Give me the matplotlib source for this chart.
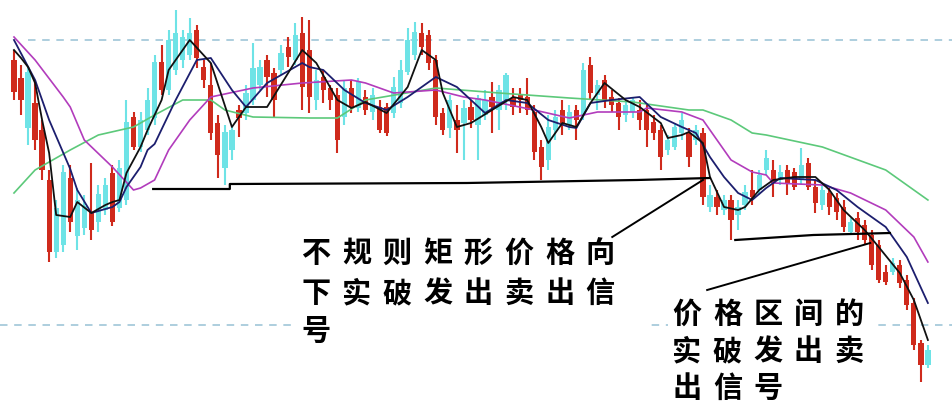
import matplotlib
matplotlib.use("Agg")
import matplotlib.pyplot as plt
from matplotlib.patches import Rectangle
import numpy as np

plt.rcParams['font.family'] = ['Noto Sans CJK SC', 'DejaVu Sans']

# ---------------- data (price units) ----------------
opens = [340, 322, 272, 297, 270, 220, 148, 155, 222, 164, 172, 188, 178, 190, 227, 192, 200, 283, 253, 270,
         282, 338, 310, 330, 340, 345, 370, 333, 315, 277, 232, 250, 290, 287, 300, 315, 340, 327, 330, 353,
         340, 367, 350, 300, 323, 312, 305, 283, 312, 292, 303, 288, 293, 293, 287, 297, 328, 345, 367, 365,
         340, 287, 272, 280, 277, 293, 275, 285, 303, 290, 300, 302, 305, 303, 288, 253, 240, 270, 290, 275,
         290, 285, 335, 305, 320, 303, 297, 285, 288, 290, 290, 278, 270, 250, 253, 267, 267, 260, 267, 193,
         203, 190, 200, 185, 195, 210, 210, 230, 230, 220, 230, 228, 220, 237, 213, 195, 207, 202, 193, 168,
         182, 175, 165, 155, 128, 128, 135, 120, 97, 57, 35]
closes = [308, 300, 328, 260, 230, 148, 192, 228, 178, 200, 194, 170, 206, 215, 178, 232, 278, 253, 280, 300,
          338, 310, 360, 367, 363, 367, 342, 320, 267, 245, 268, 270, 282, 307, 332, 333, 323, 300, 347, 343,
          365, 313, 303, 320, 310, 300, 260, 312, 293, 318, 290, 305, 270, 267, 313, 330, 360, 368, 353, 337,
          283, 270, 300, 270, 292, 280, 302, 300, 293, 310, 325, 293, 300, 290, 248, 233, 273, 283, 277, 288,
          280, 330, 307, 315, 300, 295, 283, 295, 300, 280, 270, 267, 243, 260, 273, 280, 243, 270, 203, 205,
          193, 200, 180, 193, 208, 203, 225, 242, 217, 228, 217, 213, 235, 213, 197, 210, 193, 188, 173, 178,
          168, 160, 135, 120, 118, 137, 117, 95, 55, 35, 50]
highs = [350, 335, 334, 320, 280, 230, 200, 235, 235, 212, 205, 237, 215, 222, 235, 240, 300, 288, 288, 312,
         345, 355, 370, 390, 370, 382, 375, 340, 337, 285, 275, 275, 295, 315, 357, 340, 345, 332, 355, 363,
         377, 383, 380, 330, 330, 315, 312, 320, 320, 322, 310, 312, 300, 297, 323, 340, 372, 378, 377, 370,
         345, 292, 305, 295, 300, 300, 305, 310, 318, 315, 327, 312, 312, 322, 295, 260, 285, 290, 300, 295,
         295, 337, 343, 320, 325, 310, 302, 300, 303, 300, 295, 285, 275, 265, 277, 287, 272, 275, 272, 215,
         210, 205, 205, 200, 215, 230, 230, 250, 240, 235, 235, 232, 252, 242, 220, 215, 212, 207, 200, 182,
         188, 180, 170, 160, 135, 142, 140, 125, 102, 60, 55]
lows = [300, 285, 255, 250, 220, 138, 142, 148, 168, 150, 165, 160, 168, 185, 174, 188, 195, 250, 248, 265,
        275, 305, 305, 325, 332, 340, 332, 312, 260, 222, 215, 240, 263, 280, 295, 310, 303, 283, 325, 333,
        335, 290, 287, 290, 297, 290, 247, 275, 287, 288, 285, 280, 267, 264, 282, 292, 325, 340, 345, 330,
        275, 265, 262, 247, 240, 272, 240, 280, 267, 270, 290, 285, 287, 285, 240, 220, 230, 260, 265, 270,
        260, 280, 300, 290, 292, 288, 270, 278, 282, 270, 253, 260, 230, 245, 250, 260, 233, 255, 195, 188,
        185, 185, 160, 170, 190, 195, 205, 225, 203, 215, 205, 210, 215, 210, 187, 190, 185, 180, 168, 165,
        160, 155, 130, 117, 115, 125, 112, 90, 50, 18, 32]

# moving averages (candle index -> value)
ma5_idx = [0, 1, 2, 3, 4, 5, 6, 8, 9, 11, 13, 14, 15, 16, 18, 19, 21, 22, 25, 28, 31, 33, 36, 39, 41, 43, 46,
           48, 50, 53, 56, 58, 60, 61, 63, 65, 68, 71, 73, 75, 76, 78, 80, 82, 84, 87, 89, 92, 93, 95, 96, 98,
           99, 101, 103, 104, 106, 108, 111, 114, 116, 118, 121, 123, 126, 128, 130]
ma5_val = [350, 342, 333, 317, 280, 247, 185, 183, 198, 187, 195, 198, 200, 227, 253, 270, 300, 330, 360, 337,
           273, 293, 293, 327, 350, 337, 300, 292, 298, 287, 313, 350, 340, 307, 273, 277, 290, 303, 300, 273,
           257, 277, 273, 297, 317, 300, 293, 277, 262, 265, 268, 257, 223, 193, 190, 193, 210, 220, 223, 223,
           210, 190, 170, 153, 127, 100, 60]
ma10_idx = [0, 3, 5, 8, 9, 11, 14, 15, 16, 18, 19, 20, 23, 26, 28, 31, 33, 36, 41, 42, 44, 47, 50, 53, 56, 60,
            63, 65, 67, 70, 73, 76, 79, 80, 82, 85, 89, 92, 95, 97, 99, 101, 103, 105, 107, 109, 114, 117, 120,
            124, 127, 130]
ma10_val = [360, 320, 280, 231, 210, 187, 193, 198, 213, 233, 250, 256, 300, 340, 342, 310, 293, 317, 337, 333,
            330, 310, 297, 290, 303, 323, 313, 300, 287, 300, 297, 280, 273, 272, 297, 300, 303, 283, 273, 267,
            243, 223, 207, 200, 212, 222, 220, 210, 193, 173, 143, 97]
ma20_idx = [0, 3, 7, 8, 10, 14, 17, 18, 20, 22, 25, 28, 34, 41, 48, 50, 54, 60, 64, 67, 74, 79, 83, 89, 90, 95,
            98, 100, 102, 105, 107, 108, 115, 119, 124, 128, 130]
ma20_val = [363, 340, 303, 293, 260, 233, 210, 212, 220, 250, 280, 303, 312, 317, 320, 317, 307, 310, 303, 300,
            290, 282, 288, 288, 292, 288, 280, 260, 240, 228, 225, 217, 215, 207, 190, 163, 138]
ma60_idx = [0, 3, 8, 12, 17, 20, 24, 28, 30, 34, 42, 46, 50, 60, 69, 79, 88, 96, 98, 102, 105, 107, 115, 124,
            130]
ma60_val = [207, 230, 250, 265, 273, 285, 300, 300, 290, 283, 282, 282, 300, 312, 307, 302, 298, 290, 290, 280,
            267, 265, 253, 230, 200]

ref_levels = [360, 75]

# hand-drawn annotation lines (candle index, price)
support1_idx = [19.8, 30.7, 30.7, 64.4, 88.6, 99.0]
support1_val = [211, 211, 216, 217, 220, 222]
pointer1_idx = [85.1, 98.0]
pointer1_val = [163, 220]
support2_idx = [102.6, 113.7, 124.6]
support2_val = [160, 165, 167]
pointer2_idx = [98.6, 121.8]
pointer2_val = [110, 157]

text1_lines = ["不规则矩形价格向", "下实破发出卖出信", "号"]
text2_lines = ["价格区间的", "实破发出卖", "出信号"]

# ---------------- drawing ----------------
W, H = 953, 403
fig = plt.figure(figsize=(W / 100, H / 100), dpi=100)
ax = fig.add_axes([0, 0, 1, 1])
ax.set_xlim(-1.99, 133.57)
ax.set_ylim(-3, 400)
ax.axis('off')

RED = '#cf2a1c'
CYAN = '#6ee3e6'

# reference dashed levels
ax.hlines(ref_levels[0], 2, 134, colors='#9fc6d8', linewidth=1.2, linestyles=(0, (4.5, 4)), zorder=1)
ax.hlines(ref_levels[1], -2, 134, colors='#9fc6d8', linewidth=1.2, linestyles=(0, (4.5, 4)), zorder=1)

o = np.array(opens, float)
c = np.array(closes, float)
h = np.array(highs, float)
l = np.array(lows, float)
x = np.arange(len(o))
up = c >= o
cols = np.where(up, CYAN, RED)

ax.vlines(x, l, h, colors=cols, linewidth=1.5, zorder=2)
body_bot = np.minimum(o, c)
body_h = np.maximum(np.abs(c - o), 1.5)
ax.bar(x, body_h, bottom=body_bot, width=0.75, color=cols, linewidth=0, zorder=3)

# moving averages
ax.plot(ma60_idx, ma60_val, color='#5cc97a', linewidth=1.2, zorder=4)
ax.plot(ma20_idx, ma20_val, color='#b23cbc', linewidth=1.2, zorder=5)
ax.plot(ma10_idx, ma10_val, color='#1c1e6e', linewidth=1.3, zorder=6)
ax.plot(ma5_idx, ma5_val, color='#111111', linewidth=1.3, zorder=7)

# white label boxes
ax.add_patch(Rectangle((295 / W, 1 - 350 / H), (650 - 295) / W, (350 - 240) / H,
                       transform=ax.transAxes, facecolor='white', edgecolor='none', zorder=8))
ax.add_patch(Rectangle((668 / W, 0), (872 - 668) / W, (403 - 293) / H,
                       transform=ax.transAxes, facecolor='white', edgecolor='none', zorder=8))

# annotation lines
ax.plot(support1_idx, support1_val, color='black', linewidth=1.6, zorder=9)
ax.plot(pointer1_idx, pointer1_val, color='black', linewidth=1.4, zorder=9)
ax.plot(support2_idx, support2_val, color='black', linewidth=1.6, zorder=9)
ax.plot(pointer2_idx, pointer2_val, color='black', linewidth=1.4, zorder=9)

def put_lines(lines, x0, ys, pitch):
    for line, yy in zip(lines, ys):
        for j, ch in enumerate(line):
            ax.text((x0 + j * pitch) / W, 1 - yy / H, ch, transform=ax.transAxes,
                    ha='center', va='center', fontsize=21, fontweight='heavy',
                    color='black', zorder=10)

put_lines(text1_lines, 316, [253, 293, 331], 40.6)
put_lines(text2_lines, 687, [314, 351, 388], 40.5)

fig.savefig('out.png', dpi=100, facecolor='white')
